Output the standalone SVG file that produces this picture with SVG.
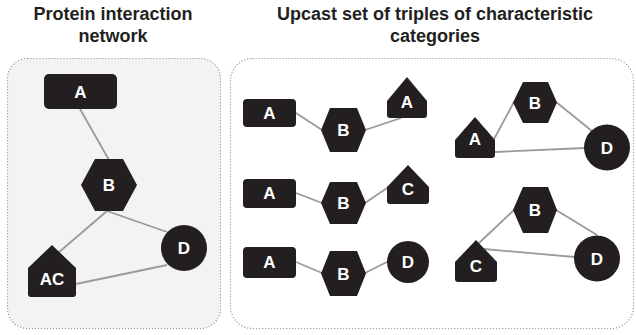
<svg xmlns="http://www.w3.org/2000/svg" width="636" height="335" viewBox="0 0 636 335">
<style>
.title{font-family:"Liberation Sans",Arial,sans-serif;font-weight:bold;font-size:18px;fill:#231f20;text-anchor:middle}
.panel{stroke:#8c8c8c;stroke-width:1.2;stroke-dasharray:1 2}
.node{fill:#231f20}
.lbl{font-family:"Liberation Sans",Arial,sans-serif;font-weight:bold;font-size:17px;fill:#ffffff;text-anchor:middle}
.edge{stroke:#9a9a9a;stroke-width:1.8;fill:none}
</style>
<rect width="636" height="335" fill="#ffffff"/>
<g id="titles">
<text class="title" x="113" y="20">Protein interaction</text>
<text class="title" x="113" y="41.5">network</text>
<text class="title" x="435" y="20">Upcast set of triples of characteristic</text>
<text class="title" x="435" y="41.5">categories</text>
</g>
<g id="panels">
<rect class="panel" x="7.5" y="58.5" width="213" height="270" rx="20" fill="#f2f4f3"/>
<rect class="panel" x="230.5" y="58.5" width="403" height="270" rx="22" fill="#ffffff"/>
</g>
<g id="connectors">
<line class="edge" x1="80" y1="109" x2="109" y2="160"/>
<line class="edge" x1="107" y1="211" x2="58" y2="253"/>
<line class="edge" x1="107" y1="211" x2="167" y2="232"/>
<line class="edge" x1="76" y1="284" x2="167" y2="265"/>
<line class="edge" x1="296" y1="113" x2="322" y2="130"/>
<line class="edge" x1="365" y1="130" x2="401" y2="118"/>
<line class="edge" x1="296" y1="193" x2="322" y2="203"/>
<line class="edge" x1="365" y1="203" x2="390" y2="186"/>
<line class="edge" x1="296" y1="262" x2="322" y2="273"/>
<line class="edge" x1="365" y1="273" x2="389" y2="261"/>
<line class="edge" x1="514" y1="102" x2="493" y2="141"/>
<line class="edge" x1="556" y1="102" x2="592" y2="131"/>
<line class="edge" x1="495" y1="152" x2="585" y2="148"/>
<line class="edge" x1="514" y1="210" x2="479" y2="243"/>
<line class="edge" x1="556" y1="210" x2="597" y2="235"/>
<line class="edge" x1="484" y1="249" x2="575" y2="257"/>
</g>
<g id="left-A"><rect class="node" x="44" y="74" width="73" height="35" rx="5"/><text class="lbl" x="80.5" y="97.5">A</text></g>
<g id="left-B"><polygon class="node" points="81,185 95,159 123,159 137,185 123,211 95,211"/><text class="lbl" x="109" y="191">B</text></g>
<g id="left-D"><circle class="node" cx="184" cy="248" r="23"/><text class="lbl" x="184" y="254">D</text></g>
<g id="left-AC"><path class="node" d="M52,245 L76,268 L76,294 Q76,297 73,297 L31,297 Q28,297 28,294 L28,268 Z"/><text class="lbl" x="52" y="285">AC</text></g>
<g id="r1-A"><rect class="node" x="243" y="99" width="53" height="28" rx="4"/><text class="lbl" x="269.5" y="119">A</text></g>
<g id="r1-B"><polygon class="node" points="321,130 330,108 357,108 366,130 357,152 330,152"/><text class="lbl" x="343.5" y="136">B</text></g>
<g id="r1-A2"><path class="node" d="M407,77 L427,101 L427,115 Q427,118 424,118 L390,118 Q387,118 387,115 L387,101 Z"/><text class="lbl" x="407" y="108">A</text></g>
<g id="r2-A"><rect class="node" x="243" y="179" width="53" height="29" rx="4"/><text class="lbl" x="269.5" y="199">A</text></g>
<g id="r2-B"><polygon class="node" points="321,203 330,182 357,182 366,203 357,224 330,224"/><text class="lbl" x="343.5" y="209">B</text></g>
<g id="r2-C"><path class="node" d="M408,165 L429,187 L429,201 Q429,204 426,204 L390,204 Q387,204 387,201 L387,187 Z"/><text class="lbl" x="408" y="195">C</text></g>
<g id="r3-A"><rect class="node" x="243" y="247" width="53" height="31" rx="4"/><text class="lbl" x="269.5" y="268">A</text></g>
<g id="r3-B"><polygon class="node" points="321,273.5 330,251 357,251 366,273.5 357,296 330,296"/><text class="lbl" x="343.5" y="279.5">B</text></g>
<g id="r3-D"><circle class="node" cx="408" cy="262" r="21"/><text class="lbl" x="408" y="268">D</text></g>
<g id="g1-B"><polygon class="node" points="513,102.5 523,82 548,82 557,102.5 548,123 523,123"/><text class="lbl" x="535" y="108.5">B</text></g>
<g id="g1-A"><path class="node" d="M475,117 L495,140 L495,155 Q495,158 492,158 L458,158 Q455,158 455,155 L455,140 Z"/><text class="lbl" x="475" y="145">A</text></g>
<g id="g1-D"><circle class="node" cx="607" cy="147.5" r="23"/><text class="lbl" x="607" y="153.5">D</text></g>
<g id="g2-B"><polygon class="node" points="513,210 523,187 548,187 557,210 548,233 523,233"/><text class="lbl" x="535" y="216">B</text></g>
<g id="g2-C"><path class="node" d="M476,240 L497,262 L497,279 Q497,282 494,282 L458,282 Q455,282 455,279 L455,262 Z"/><text class="lbl" x="476" y="272">C</text></g>
<g id="g2-D"><circle class="node" cx="597" cy="258.5" r="23"/><text class="lbl" x="597" y="264.5">D</text></g>
</svg>
